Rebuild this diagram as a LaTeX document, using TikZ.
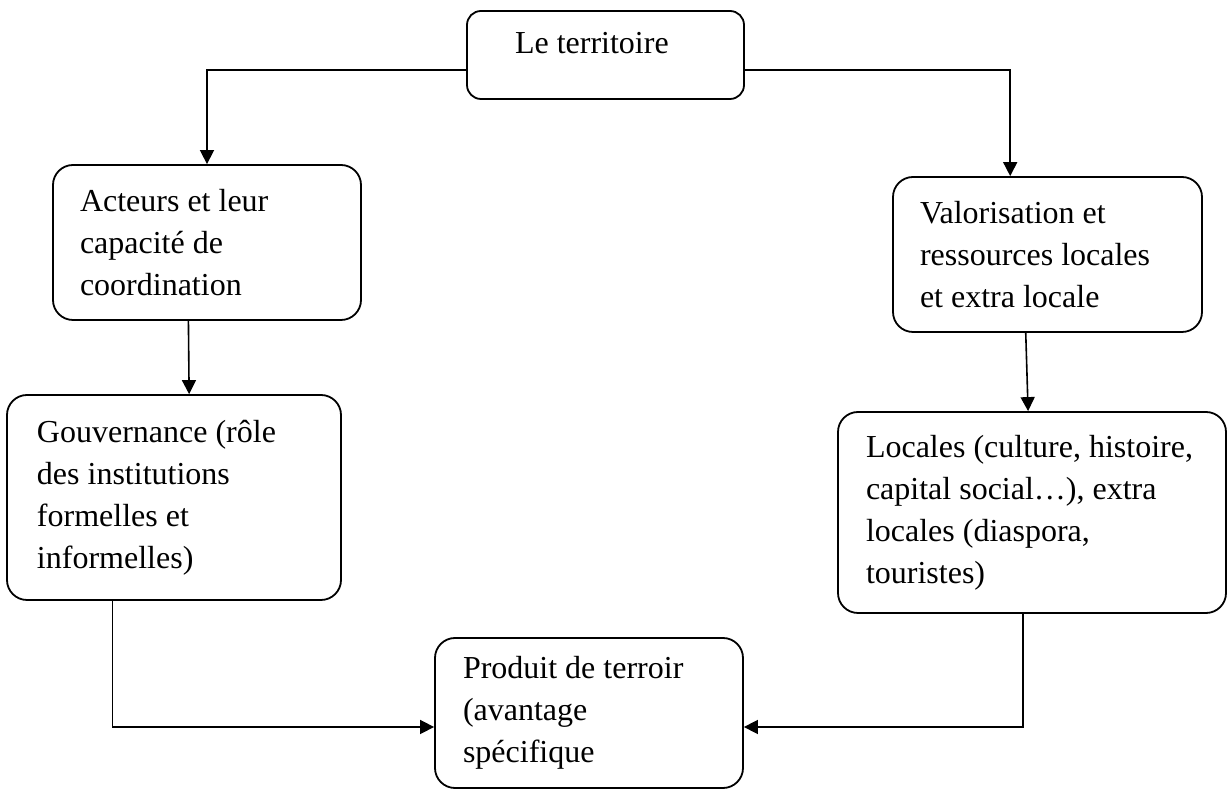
\documentclass[tikz,border=0pt]{standalone}
\usepackage{fontspec}
\setmainfont{Liberation Serif}
\usepackage{tikz}
\usetikzlibrary{calc, arrows.meta, positioning}

\tikzset{
    boite/.style={draw, line width=0.9pt, rounded corners=10pt, align=flush left,
        font=\fontsize{16}{21}\selectfont, inner sep=0pt},
    fleche/.style={->, line width=0.8pt}
}

\begin{document}
\begin{tikzpicture}[>={Triangle[length=7pt,width=7pt]}, x=0.5pt, y=-0.5pt]
    % Cadre
    \useasboundingbox (0,0) rectangle (1228,790);

    % Les boîtes
    \node[boite, rounded corners=7pt, minimum width=138.5pt, minimum height=44pt,
        text width=90.5pt, text depth=12pt] (terr) at (605.5,55) {Le territoire};
    \node[boite, minimum width=154pt, minimum height=77.5pt, text width=127pt]
        (act) at (207,242.5) {Acteurs et leur\\ capacité de\\ coordination};
    \node[boite, minimum width=167pt, minimum height=102.5pt, text width=137pt]
        (gouv) at (174,497.5) {Gouvernance (rôle\\ des institutions\\ formelles et\\ informelles)};
    \node[boite, minimum width=154.5pt, minimum height=77.5pt, text width=127.5pt]
        (valo) at (1047.5,254.5) {Valorisation et\\ ressources locales\\ et extra locale};
    \node[boite, minimum width=194pt, minimum height=100.5pt, text width=166pt]
        (loc) at (1032,512.5) {Locales (culture, histoire,\\ capital social…), extra\\ locales (diaspora,\\ touristes)};
    \node[boite, minimum width=154pt, minimum height=75pt, text width=126pt]
        (prod) at (589,713) {Produit de terroir\\ (avantage\\ spécifique};

    % Les liaisons
    \draw[fleche] ($(terr.west)+(0,-7.5pt)$) -| (act.north);
    \draw[fleche] ($(terr.east)+(0,-7.5pt)$) -| ($(valo.north west)!0.38!(valo.north east)$);
    \draw[fleche] ($(act.south west)!0.44!(act.south east)$) -- ($(gouv.north west)!0.545!(gouv.north east)$);
    \draw[fleche] ($(valo.south west)!0.43!(valo.south east)$) -- ($(loc.north west)!0.49!(loc.north east)$);

    \coordinate (entreeG) at ($(prod.west)+(0,-7pt)$);
    \coordinate (entreeD) at ($(prod.east)+(0,-7pt)$);
    \draw[fleche] ($(gouv.south west)!0.317!(gouv.south east)$) |- (entreeG);
    \draw[fleche] ($(loc.south west)!0.477!(loc.south east)$) |- (entreeD);
\end{tikzpicture}
\end{document}
